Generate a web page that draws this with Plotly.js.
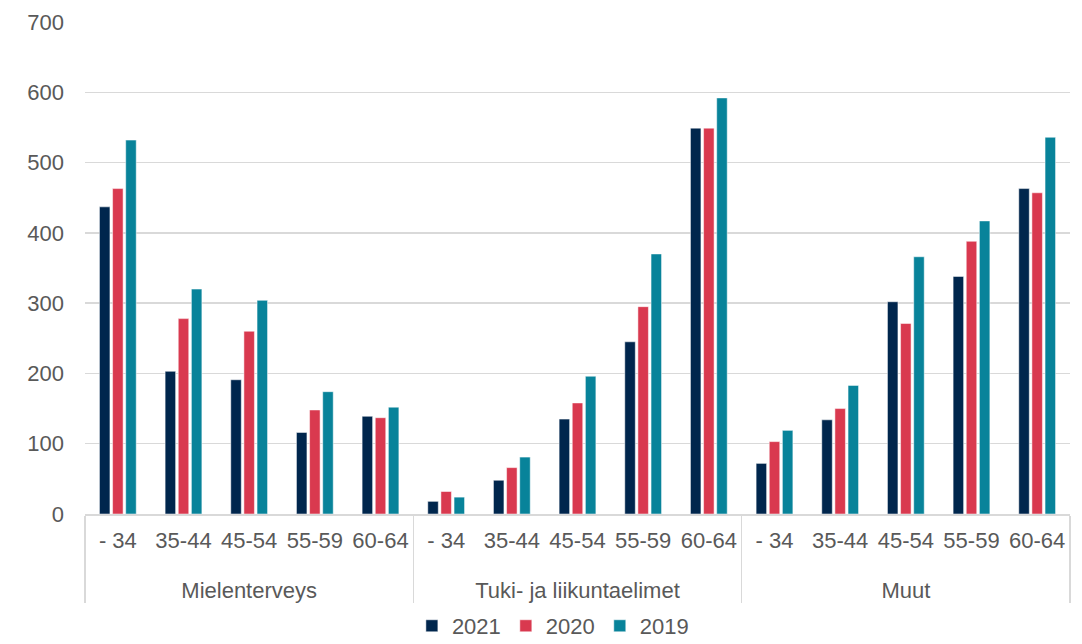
<!DOCTYPE html>
<html>
<head>
<meta charset="utf-8">
<script src="https://cdn.plot.ly/plotly-3.0.1.min.js"></script>
<style>html,body{margin:0;padding:0;background:#fff;}#chart{width:1082px;height:644px;}</style>
</head>
<body>
<div id="chart"></div>
<script>
const groups = ["Mielenterveys", "Tuki- ja liikuntaelimet", "Muut"];
const ageGroups = ["- 34", "35-44", "45-54", "55-59", "60-64"];
const seriesNames = ["2021", "2020", "2019"];
const values2021 = [437, 203, 191, 116, 139,   18, 48, 135, 245, 549,   72, 134, 302, 338, 463];
const values2020 = [463, 278, 260, 148, 137,   32, 66, 158, 295, 549,   103, 150, 271, 388, 457];
const values2019 = [532, 320, 304, 174, 152,   24, 81, 196, 370, 592,   119, 183, 366, 417, 536];
const colors = ["#00264d", "#d9394f", "#08839a"];

const xGroup = [], xCat = [];
groups.forEach(g => ageGroups.forEach(a => { xGroup.push("<br>" + g); xCat.push(a); }));

const allValues = [values2021, values2020, values2019];
const traces = allValues.map((vals, i) => ({
  type: "bar",
  name: seriesNames[i],
  x: [xGroup, xCat],
  y: vals,
  marker: { color: colors[i], line: { color: "#ffffff", width: 0.5 } }
}));

const layout = {
  width: 1082, height: 644,
  margin: { l: 85, r: 12, t: 22, b: 130, autoexpand: false },
  paper_bgcolor: "#ffffff", plot_bgcolor: "#ffffff",
  font: { family: "Liberation Sans, Arial, sans-serif", size: 22, color: "#595959" },
  barmode: "group",
  bargap: 0.4,
  bargroupgap: 0.2,
  showlegend: true,
  legend: { orientation: "h", x: 0.475, xanchor: "center", yref: "container", y: 0.028, yanchor: "middle",
            font: { size: 22, color: "#595959" }, traceorder: "normal" },
  xaxis: {
    type: "multicategory", automargin: false, tickangle: 0,
    showline: true, linecolor: "#d9d9d9", linewidth: 1.5,
    showdividers: true, dividercolor: "#d9d9d9", dividerwidth: 1.5,
    tickfont: { size: 22, color: "#595959" },
    ticklabelstandoff: 6,
    ticks: "", showgrid: false
  },
  yaxis: {
    range: [0, 700], dtick: 100, tick0: 0, automargin: false,
    showgrid: true, gridcolor: "#d9d9d9", gridwidth: 1.5,
    zeroline: false, showline: false, ticks: "",
    ticklabelstandoff: 20,
    tickfont: { size: 22, color: "#595959" }
  }
};

Plotly.newPlot("chart", traces, layout, { displayModeBar: false, staticPlot: true });
</script>
</body>
</html>
